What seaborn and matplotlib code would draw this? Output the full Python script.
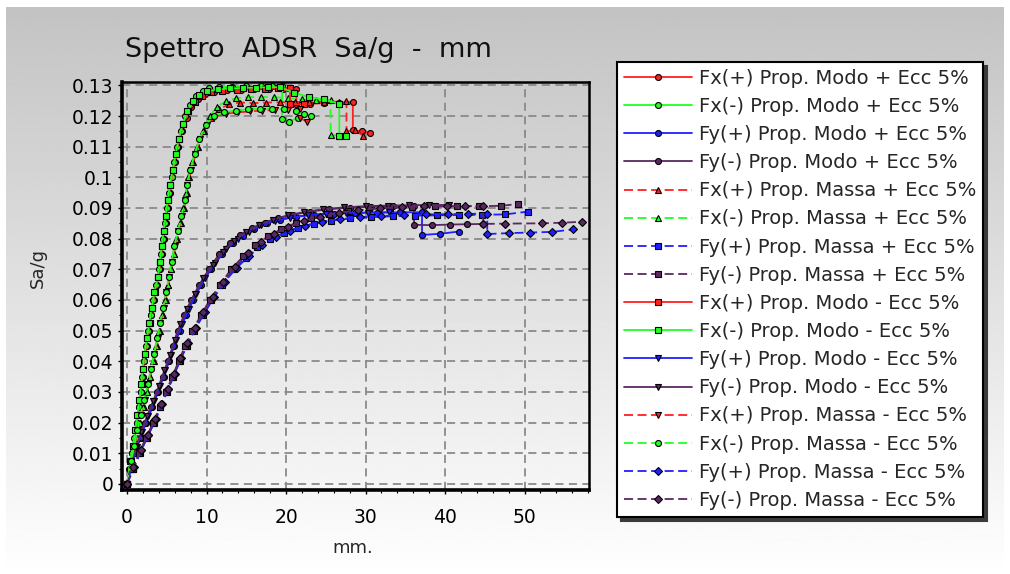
import matplotlib
matplotlib.use("Agg")
import matplotlib.pyplot as plt
from matplotlib.ticker import MultipleLocator, FixedLocator, FixedFormatter
import numpy as np
import pandas as pd
import seaborn as sns

# ---------------- data ----------------
LABELS = [
    "Fx(+) Prop. Modo + Ecc 5%", "Fx(-) Prop. Modo + Ecc 5%",
    "Fy(+) Prop. Modo + Ecc 5%", "Fy(-) Prop. Modo + Ecc 5%",
    "Fx(+) Prop. Massa + Ecc 5%", "Fx(-) Prop. Massa + Ecc 5%",
    "Fy(+) Prop. Massa + Ecc 5%", "Fy(-) Prop. Massa + Ecc 5%",
    "Fx(+) Prop. Modo - Ecc 5%", "Fx(-) Prop. Modo - Ecc 5%",
    "Fy(+) Prop. Modo - Ecc 5%", "Fy(-) Prop. Modo - Ecc 5%",
    "Fx(+) Prop. Massa - Ecc 5%", "Fx(-) Prop. Massa - Ecc 5%",
    "Fy(+) Prop. Massa - Ecc 5%", "Fy(-) Prop. Massa - Ecc 5%",
]

FXP_MODO_PLUS = [(0, 0), (0.35, 0.005), (0.65, 0.01), (0.95, 0.015), (1.25, 0.02), (1.5, 0.025), (1.75, 0.03),
                 (1.95, 0.035), (2.15, 0.04), (2.45, 0.045), (2.75, 0.05), (3.05, 0.055), (3.4, 0.06), (3.75, 0.065),
                 (4.1, 0.07), (4.35, 0.075), (4.6, 0.08), (4.85, 0.085), (5.1, 0.09), (5.4, 0.095), (5.7, 0.1),
                 (6.05, 0.105), (6.45, 0.11), (6.95, 0.115), (7.5, 0.1195), (8.1, 0.1228), (8.9, 0.1255),
                 (9.8, 0.1272), (11.0, 0.128), (12.6, 0.1284), (14.3, 0.1286), (16.0, 0.1287), (17.8, 0.1288),
                 (19.6, 0.1288), (21.3, 0.1289), (21.3, 0.1238), (23.0, 0.124), (24.8, 0.1242), (26.6, 0.1244),
                 (28.4, 0.1246), (28.4, 0.1154), (29.5, 0.115), (30.6, 0.1146)]
FXM_MODO_PLUS = [(0, 0), (0.3, 0.005), (0.6, 0.01), (0.9, 0.015), (1.2, 0.02), (1.45, 0.025), (1.7, 0.03),
                 (1.9, 0.035), (2.1, 0.04), (2.4, 0.045), (2.7, 0.05), (3.0, 0.055), (3.3, 0.06), (3.7, 0.065),
                 (4.05, 0.07), (4.3, 0.075), (4.5, 0.08), (4.75, 0.085), (5.0, 0.09), (5.3, 0.095), (5.6, 0.1),
                 (5.95, 0.105), (6.3, 0.11), (6.8, 0.115), (7.3, 0.12), (7.9, 0.1235), (8.7, 0.1265),
                 (9.5, 0.1282), (10.3, 0.129), (11.6, 0.1294), (13.2, 0.1296), (15.0, 0.1297), (16.8, 0.1298),
                 (18.2, 0.1298), (19.5, 0.1298), (19.5, 0.119), (20.4, 0.1182), (21.5, 0.1195)]
FYP_MODO_PLUS = [(0, 0), (0.5, 0.005), (1.0, 0.01), (1.7, 0.015), (2.4, 0.02), (3.2, 0.025), (3.9, 0.03),
                 (4.6, 0.035), (5.3, 0.04), (5.9, 0.045), (6.6, 0.05), (7.4, 0.055), (8.3, 0.06), (9.3, 0.065),
                 (10.5, 0.07), (11.9, 0.075), (13.3, 0.0785), (14.6, 0.081), (16.0, 0.083), (17.6, 0.085),
                 (19.3, 0.0862), (21.2, 0.0872), (23.5, 0.0878), (26.0, 0.0882), (28.7, 0.0884), (31.5, 0.0885),
                 (34.3, 0.0886), (37.1, 0.0886), (37.1, 0.0812), (39.4, 0.0816), (41.7, 0.0823)]
FYM_MODO_PLUS = [(0, 0), (0.4, 0.005), (0.9, 0.01), (1.6, 0.015), (2.3, 0.02), (3.0, 0.025), (3.8, 0.03),
                 (4.5, 0.035), (5.2, 0.04), (5.8, 0.045), (6.4, 0.05), (7.2, 0.055), (8.1, 0.06), (9.1, 0.065),
                 (10.3, 0.07), (11.6, 0.075), (12.9, 0.0785), (14.2, 0.0812), (15.7, 0.0835), (17.3, 0.0852),
                 (19.0, 0.0866), (20.9, 0.0878), (23.0, 0.0888), (25.4, 0.0896), (28.0, 0.0901), (30.7, 0.0904),
                 (33.4, 0.0905), (36.1, 0.0906), (36.1, 0.0845), (38.4, 0.0844), (40.6, 0.0846), (42.7, 0.0847),
                 (44.8, 0.0848)]
FXP_MASSA_PLUS = [(0, 0), (0.45, 0.005), (0.85, 0.01), (1.25, 0.015), (1.65, 0.02), (2.1, 0.025), (2.55, 0.03),
                  (2.95, 0.035), (3.35, 0.04), (3.75, 0.045), (4.1, 0.05), (4.5, 0.055), (4.85, 0.06), (5.2, 0.065),
                  (5.55, 0.07), (5.9, 0.075), (6.3, 0.08), (6.75, 0.085), (7.2, 0.09), (7.5, 0.095), (7.85, 0.1),
                  (8.35, 0.105), (8.95, 0.11), (9.7, 0.115), (10.6, 0.1195), (11.6, 0.1222), (12.8, 0.1238),
                  (14.2, 0.1244), (15.8, 0.1242), (17.5, 0.1244), (19.3, 0.1245), (21.1, 0.1245), (22.9, 0.1245),
                  (24.8, 0.1246), (26.6, 0.1247), (27.6, 0.1248), (27.6, 0.115), (28.7, 0.1154), (29.7, 0.1135)]
FXM_MASSA_PLUS = [(0, 0), (0.4, 0.005), (0.8, 0.01), (1.2, 0.015), (1.6, 0.02), (2.05, 0.025), (2.5, 0.03),
                  (2.9, 0.035), (3.3, 0.04), (3.7, 0.045), (4.06, 0.05), (4.45, 0.055), (4.8, 0.06), (5.15, 0.065),
                  (5.5, 0.07), (5.85, 0.075), (6.2, 0.08), (6.65, 0.085), (7.1, 0.09), (7.4, 0.095), (7.7, 0.1),
                  (8.2, 0.105), (8.8, 0.11), (9.5, 0.115), (10.4, 0.12), (11.3, 0.123), (12.4, 0.1248),
                  (13.7, 0.1258), (15.2, 0.1262), (16.8, 0.1262), (18.5, 0.1262), (20.2, 0.1258), (22.0, 0.1254),
                  (23.8, 0.1252), (25.6, 0.1252), (25.6, 0.1138), (26.7, 0.1136)]
FYP_MASSA_PLUS = [(0, 0), (0.8, 0.005), (1.6, 0.01), (2.5, 0.015), (3.4, 0.02), (4.2, 0.025), (5.0, 0.03),
                  (5.8, 0.035), (6.6, 0.04), (7.5, 0.045), (8.4, 0.05), (9.5, 0.055), (10.6, 0.06), (11.9, 0.065),
                  (13.4, 0.07), (14.9, 0.0738), (16.4, 0.0772), (18.0, 0.0798), (19.7, 0.0819), (21.5, 0.0836),
                  (23.5, 0.0849), (25.7, 0.0859), (28.1, 0.0866), (30.7, 0.087), (33.4, 0.0873), (36.2, 0.0875),
                  (39.0, 0.0876), (41.8, 0.0877), (44.6, 0.0878), (47.5, 0.0879), (50.4, 0.0888)]
FYM_MASSA_PLUS = [(0, 0), (0.7, 0.005), (1.5, 0.01), (2.4, 0.015), (3.3, 0.02), (4.1, 0.025), (4.9, 0.03),
                  (5.7, 0.035), (6.5, 0.04), (7.3, 0.045), (8.2, 0.05), (9.3, 0.055), (10.4, 0.06), (11.7, 0.065),
                  (13.1, 0.07), (14.6, 0.0742), (16.1, 0.0778), (17.7, 0.0807), (19.4, 0.0831), (21.2, 0.0851),
                  (23.2, 0.0867), (25.4, 0.0879), (27.8, 0.0889), (30.4, 0.0896), (33.1, 0.0901), (35.9, 0.0904),
                  (38.7, 0.0905), (41.5, 0.0906), (44.3, 0.0906), (47.0, 0.0907), (49.2, 0.0913)]
FXP_MODO_MINUS = [(0, 0), (0.45, 0.0075), (0.8, 0.0125), (1.1, 0.0175), (1.35, 0.0225), (1.6, 0.0275),
                  (1.85, 0.0325), (2.0, 0.0375), (2.25, 0.0425), (2.55, 0.0475), (2.85, 0.0525), (3.15, 0.0575),
                  (3.5, 0.0625), (3.9, 0.0675), (4.2, 0.0725), (4.4, 0.0775), (4.65, 0.0825), (4.9, 0.0875),
                  (5.15, 0.0925), (5.45, 0.0975), (5.8, 0.1025), (6.15, 0.1075), (6.55, 0.1125), (7.05, 0.1175),
                  (7.7, 0.1215), (8.5, 0.1245), (9.4, 0.1266), (10.5, 0.1278), (12.0, 0.1283), (13.8, 0.1286),
                  (15.6, 0.1288), (17.4, 0.1289), (19.0, 0.129), (20.5, 0.129), (20.5, 0.1238), (22.2, 0.1238)]
FXM_MODO_MINUS = [(0, 0), (0.4, 0.0075), (0.75, 0.0125), (1.05, 0.0175), (1.3, 0.0225), (1.55, 0.0275),
                  (1.8, 0.0325), (1.95, 0.0375), (2.2, 0.0425), (2.5, 0.0475), (2.8, 0.0525), (3.1, 0.0575),
                  (3.45, 0.0625), (3.85, 0.0675), (4.15, 0.0725), (4.35, 0.0775), (4.6, 0.0825), (4.85, 0.0875),
                  (5.1, 0.0925), (5.4, 0.0975), (5.75, 0.1025), (6.1, 0.1075), (6.5, 0.1125), (7.0, 0.1175),
                  (7.6, 0.1215), (8.3, 0.1248), (9.1, 0.127), (10.0, 0.1281), (11.4, 0.1287), (13.0, 0.129),
                  (14.6, 0.1292), (16.2, 0.1293), (17.7, 0.1294), (19.2, 0.1294), (21.0, 0.1276), (22.9, 0.1262),
                  (24.8, 0.1254), (26.7, 0.124), (26.7, 0.1136), (27.6, 0.1135)]
FYP_MODO_MINUS = [(0, 0), (0.6, 0.006), (1.2, 0.012), (1.9, 0.017), (2.6, 0.022), (3.4, 0.027), (4.1, 0.032),
                  (4.8, 0.037), (5.5, 0.042), (6.2, 0.047), (6.9, 0.052), (7.8, 0.057), (8.7, 0.062), (9.8, 0.067),
                  (11.1, 0.072), (12.5, 0.0765), (13.9, 0.0798), (15.3, 0.0822), (16.9, 0.0843), (18.6, 0.0858),
                  (20.5, 0.0868), (22.7, 0.0876), (25.0, 0.0881), (27.6, 0.0884), (30.3, 0.0885), (33.0, 0.0886)]
FYM_MODO_MINUS = [(0, 0), (0.5, 0.006), (1.1, 0.012), (1.8, 0.017), (2.5, 0.022), (3.3, 0.027), (4.0, 0.032),
                  (4.7, 0.037), (5.4, 0.042), (6.0, 0.047), (6.7, 0.052), (7.5, 0.057), (8.5, 0.062), (9.6, 0.067),
                  (10.8, 0.0715), (12.1, 0.0758), (13.5, 0.0793), (15.0, 0.0822), (16.6, 0.0845), (18.3, 0.0862),
                  (20.2, 0.0876), (22.3, 0.0887), (24.7, 0.0896), (27.3, 0.0902), (30.0, 0.0906), (32.8, 0.0908),
                  (35.5, 0.0909), (38.0, 0.091), (40.5, 0.091)]
FXP_MASSA_MINUS = [(0, 0), (0.55, 0.0075), (0.95, 0.0125), (1.35, 0.0175), (1.75, 0.0225), (2.2, 0.0275),
                   (2.65, 0.0325), (3.05, 0.0375), (3.45, 0.0425), (3.85, 0.0475), (4.2, 0.0525), (4.6, 0.0575),
                   (4.95, 0.0625), (5.3, 0.0675), (5.65, 0.0725), (6.0, 0.0775), (6.45, 0.0825), (6.9, 0.0875),
                   (7.3, 0.0925), (7.6, 0.0975), (8.0, 0.1025), (8.55, 0.1075), (9.2, 0.1125), (10.0, 0.1172),
                   (11.0, 0.1198), (12.5, 0.1208), (14.0, 0.1212), (15.5, 0.1215), (17.0, 0.1218), (18.6, 0.122),
                   (20.2, 0.1221), (21.8, 0.1222), (21.8, 0.1195), (22.6, 0.118)]
FXM_MASSA_MINUS = [(0, 0), (0.5, 0.0075), (0.9, 0.0125), (1.3, 0.0175), (1.7, 0.0225), (2.15, 0.0275),
                   (2.6, 0.0325), (3.0, 0.0375), (3.4, 0.0425), (3.8, 0.0475), (4.15, 0.0525), (4.55, 0.0575),
                   (4.9, 0.0625), (5.25, 0.0675), (5.6, 0.0725), (5.95, 0.0775), (6.4, 0.0825), (6.85, 0.0875),
                   (7.25, 0.0925), (7.55, 0.0975), (7.95, 0.1025), (8.5, 0.1075), (9.1, 0.1125), (9.9, 0.1172),
                   (10.9, 0.12), (12.2, 0.1212), (13.7, 0.1218), (15.2, 0.1222), (16.7, 0.1224), (18.2, 0.1224),
                   (19.7, 0.1222), (21.2, 0.1215), (22.2, 0.1205), (23.2, 0.12)]
FYP_MASSA_MINUS = [(0, 0), (0.9, 0.0055), (1.8, 0.011), (2.7, 0.016), (3.6, 0.021), (4.4, 0.026), (5.2, 0.031),
                   (6.0, 0.036), (6.8, 0.041), (7.7, 0.046), (8.7, 0.051), (9.8, 0.056), (11.0, 0.061),
                   (12.3, 0.066), (13.8, 0.0705), (15.4, 0.0745), (17.0, 0.0778), (18.7, 0.0804), (20.5, 0.0826),
                   (22.4, 0.0842), (24.5, 0.0855), (26.8, 0.0864), (29.3, 0.087), (32.0, 0.0874), (34.8, 0.0877),
                   (37.6, 0.0879), (40.4, 0.088), (42.9, 0.0881), (45.3, 0.0881), (45.3, 0.0815), (48.0, 0.0818),
                   (50.7, 0.082), (53.4, 0.0822), (56.1, 0.083)]
FYM_MASSA_MINUS = [(0, 0), (0.8, 0.0055), (1.7, 0.011), (2.6, 0.016), (3.5, 0.021), (4.3, 0.026), (5.1, 0.031),
                   (5.9, 0.036), (6.7, 0.041), (7.6, 0.046), (8.5, 0.051), (9.6, 0.056), (10.8, 0.061),
                   (12.1, 0.066), (13.6, 0.0708), (15.2, 0.0752), (16.8, 0.0788), (18.5, 0.0816), (20.3, 0.0839),
                   (22.2, 0.0857), (24.3, 0.0872), (26.6, 0.0884), (29.1, 0.0893), (31.8, 0.0899), (34.6, 0.0903),
                   (37.4, 0.0905), (40.2, 0.0906), (42.5, 0.0906), (44.8, 0.0906), (44.8, 0.0848), (47.5, 0.0849),
                   (52.2, 0.085), (54.7, 0.0852), (57.2, 0.0855)]

SERIES = [FXP_MODO_PLUS, FXM_MODO_PLUS, FYP_MODO_PLUS, FYM_MODO_PLUS,
          FXP_MASSA_PLUS, FXM_MASSA_PLUS, FYP_MASSA_PLUS, FYM_MASSA_PLUS,
          FXP_MODO_MINUS, FXM_MODO_MINUS, FYP_MODO_MINUS, FYM_MODO_MINUS,
          FXP_MASSA_MINUS, FXM_MASSA_MINUS, FYP_MASSA_MINUS, FYM_MASSA_MINUS]

X_TICKS = [0, 10, 20, 30, 40, 50]
Y_TICKS = [0, 0.01, 0.02, 0.03, 0.04, 0.05, 0.06, 0.07, 0.08, 0.09, 0.1, 0.11, 0.12, 0.13]
Y_TICK_LABELS = ["0", "0.01", "0.02", "0.03", "0.04", "0.05", "0.06", "0.07", "0.08", "0.09",
                 "0.1", "0.11", "0.12", "0.13"]
TITLE = "Spettro  ADSR  Sa/g  -  mm"
X_LABEL = "mm."
Y_LABEL = "Sa/g"

# ---------------- styles ----------------
RED, GREEN, BLUE, PURPLE = "#ff2020", "#20ff20", "#2020ff", "#5a2860"
COLORS = [RED, GREEN, BLUE, PURPLE] * 4
SOLID, DASH = "", (5, 2.5)
DASHES = [SOLID] * 4 + [DASH] * 4 + [SOLID] * 4 + [DASH] * 4
MARKERS = ["o", "o", "o", "o", "^", "^", "s", "s", "s", "s", "v", "v", "v", "o", "D", "D"]

rows = []
for lab, pts in zip(LABELS, SERIES):
    for i, (xv, yv) in enumerate(pts):
        rows.append({"serie": lab, "idx": i, "mm": xv, "sag": yv})
df = pd.DataFrame(rows)

sns.set_theme(style="white")
plt.rcParams["font.family"] = ["DejaVu Sans"]

W, H = 1010, 574
fig = plt.figure(figsize=(W / 100, H / 100), dpi=100, facecolor="white")

# gradient panel background
bg = fig.add_axes([0, 0, 1, 1], zorder=-5)
bg.set_xlim(0, W)
bg.set_ylim(H, 0)
grad = np.linspace(0.765, 0.995, 256).reshape(-1, 1)
bg.imshow(grad, extent=[6, 1004, 567, 7], cmap="gray", vmin=0, vmax=1, aspect="auto", interpolation="bilinear")
bg.axis("off")

ax = fig.add_axes([121.7 / W, 1 - 490 / H, (589 - 121.7) / W, (490 - 81.7) / H])
ax.set_facecolor("none")

sns.lineplot(data=df, x="mm", y="sag", hue="serie", style="serie",
             hue_order=LABELS, style_order=LABELS,
             palette=dict(zip(LABELS, COLORS)),
             dashes=dict(zip(LABELS, DASHES)),
             markers=dict(zip(LABELS, MARKERS)),
             sort=False, estimator=None, ax=ax,
             linewidth=1.3, markersize=4.3, markeredgecolor="black", markeredgewidth=0.8)

handles, labels = ax.get_legend_handles_labels()
if ax.get_legend() is not None:
    ax.get_legend().remove()

ax.set_xlim(-0.67, 58.1)
ax.set_ylim(-0.002, 0.1312)
ax.xaxis.set_major_locator(FixedLocator(X_TICKS))
ax.xaxis.set_minor_locator(MultipleLocator(2))
ax.yaxis.set_major_locator(FixedLocator(Y_TICKS))
ax.yaxis.set_major_formatter(FixedFormatter(Y_TICK_LABELS))
ax.yaxis.set_minor_locator(MultipleLocator(0.005))
ax.tick_params(axis="both", which="major", labelsize=13.5, length=3, width=1, color="black",
               direction="out", labelcolor="black", bottom=True, left=True)
ax.tick_params(axis="x", which="major", pad=10)
ax.tick_params(axis="y", which="major", pad=3)
ax.tick_params(axis="both", which="minor", length=2, width=0.8, color="black", direction="out",
               bottom=True, left=True)
ax.grid(True, which="major", color="#8a8a8a", linestyle=(0, (4.5, 3)), linewidth=1.3)
ax.set_axisbelow(True)
for side, lw in [("left", 2.6), ("bottom", 2.6), ("top", 1.8), ("right", 1.8)]:
    ax.spines[side].set_visible(True)
    ax.spines[side].set_color("black")
    ax.spines[side].set_linewidth(lw)
ax.set_xlabel("")
ax.set_ylabel("")

fig.text(308 / W, 1 - 50 / H, TITLE, ha="center", va="center", fontsize=19.5, color="#111111")
fig.text(353 / W, 1 - 548 / H, X_LABEL, ha="center", va="center", fontsize=13)
fig.text(38 / W, 1 - 268 / H, Y_LABEL, ha="center", va="center", fontsize=13, rotation=90)

leg = fig.legend(handles, labels, loc="upper left", bbox_to_anchor=(617 / W, 1 - 62 / H),
                 borderaxespad=0, frameon=True, fancybox=False,
                 shadow={"ox": 3, "oy": -3, "color": "#3a3a3a", "alpha": 1.0},
                 fontsize=14, handlelength=3.5, handletextpad=0.37, labelspacing=0.47,
                 borderpad=0.35, facecolor="white", edgecolor="black")
leg.get_frame().set_linewidth(1.5)
leg.get_frame().set_alpha(1.0)

fig.savefig("out.png", dpi=100, facecolor="white")
